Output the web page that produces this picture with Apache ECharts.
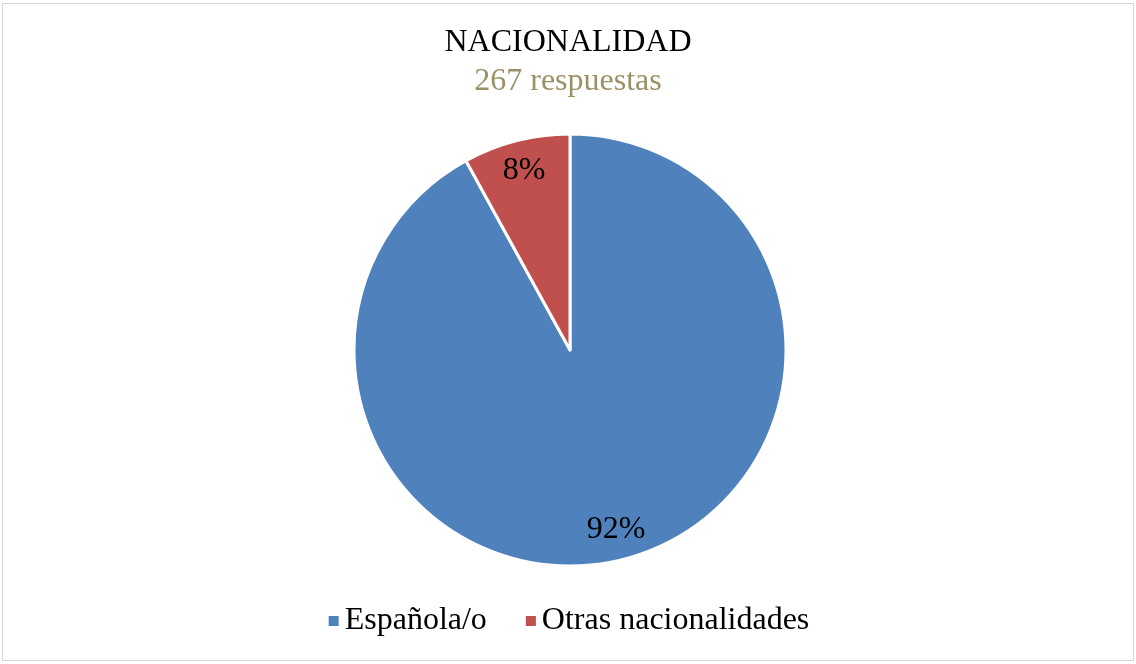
<!DOCTYPE html>
<html>
<head>
<meta charset="utf-8">
<script src="https://cdn.jsdelivr.net/npm/echarts@6/dist/echarts.min.js"></script>
<style>
  html, body { margin: 0; padding: 0; background: #fff; }
  #pie { width: 1136px; height: 664px; }
  .frame { position: absolute; left: 2px; top: 3px; width: 1130px; height: 656px; border: 1px solid #d9d9d9; pointer-events: none; }
</style>
</head>
<body>
<div id="pie"></div>
<div class="frame"></div>
<script>
var categories = ['Española/o', 'Otras nacionalidades'];
var values = [92, 8];
var colors = ['#4f81bd', '#c0504d'];

var pieData = categories.map(function (c, i) {
    return { name: c, value: values[i], itemStyle: { color: colors[i] } };
});

var pieChart = echarts.init(document.getElementById('pie'));
var option = {
    backgroundColor: '#fff',
    textStyle: { fontFamily: 'Liberation Serif' },
    title: {
        text: 'NACIONALIDAD',
        subtext: '267 respuestas',
        left: 'center',
        top: 22,
        itemGap: 7,
        textStyle: { fontFamily: 'Liberation Serif', fontSize: 32, fontWeight: 'normal', color: '#000' },
        subtextStyle: { fontFamily: 'Liberation Serif', fontSize: 32, color: '#9b9167' }
    },
    legend: {
        bottom: 22,
        left: 'center',
        icon: 'rect',
        itemWidth: 12,
        itemHeight: 12,
        itemGap: 37,
        data: categories,
        textStyle: { fontFamily: 'Liberation Serif', fontSize: 32, color: '#000' }
    },
    series: [{
        // visible pie
        type: 'pie',
        center: [570, 350],
        radius: [0, 216],
        startAngle: 90,
        clockwise: true,
        label: { show: false },
        labelLine: { show: false },
        itemStyle: { borderColor: '#fff', borderWidth: 3 },
        emphasis: { disabled: true },
        data: pieData
    }, {
        // invisible overlay only to place the % labels further out
        type: 'pie',
        center: [570, 350],
        radius: [0, 364],
        startAngle: 90,
        clockwise: true,
        silent: true,
        itemStyle: { color: 'transparent' },
        label: {
            show: true,
            position: 'inside',
            formatter: '{c}%',
            fontFamily: 'Liberation Serif',
            fontSize: 32,
            color: '#000'
        },
        labelLine: { show: false },
        emphasis: { disabled: true },
        data: categories.map(function (c, i) { return { name: c, value: values[i] }; })
    }]
};
pieChart.setOption(option);
</script>
</body>
</html>
